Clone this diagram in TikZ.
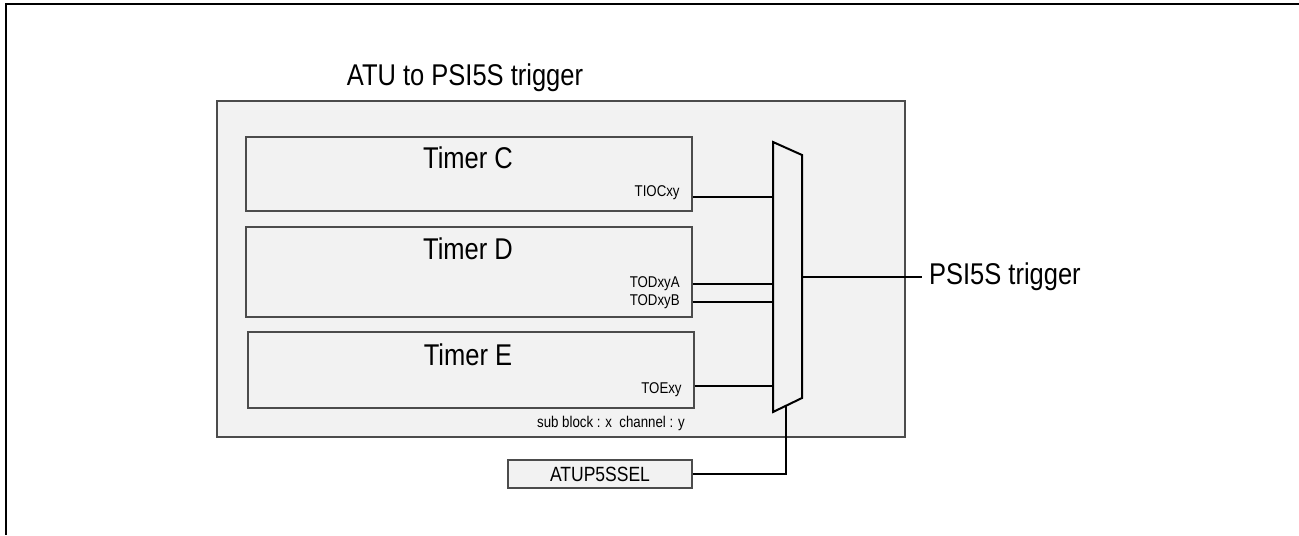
\documentclass[tikz,border=0pt]{standalone}
\usepackage{fontspec}
\setmainfont{Liberation Sans}[FakeStretch=0.85]
\usetikzlibrary{positioning}

\begin{document}
\begin{tikzpicture}[x=0.5pt,y=-0.5pt,
  box/.style={draw=black!70, fill=black!5, line width=0.6pt, inner sep=0pt},
  wire/.style={line width=0.9pt},
  big/.style={font=\fontsize{15}{17}\selectfont},
  tiny/.style={font=\fontsize{7.8}{9}\selectfont, inner sep=0pt}]
\useasboundingbox (0,0) rectangle (1299,535);
\draw [line width=1pt] (1299,4) -- (5.5,4) -- (5.5,535);
% ATU block and timers
\node (atu) [box] [minimum width=344pt, minimum height=168pt] at (561,269) {};
\node (ttl) [big, anchor=base, inner sep=0pt] at (465,85) {ATU to PSI5S trigger};
\node (tc) [box, minimum width=223pt, minimum height=37pt] at (469,174) {};
\node (td) [box, minimum width=223pt, minimum height=45pt] at (469,272) {};
\node (te) [box, minimum width=223pt, minimum height=38pt] at (471,370) {};
\node (tcn) [big, anchor=base, inner sep=0pt] at (468,168) {Timer C};
\node (tdn) [big, anchor=base, inner sep=0pt] at (468,259) {Timer D};
\node (ten) [big, anchor=base, inner sep=0pt] at (468,365) {Timer E};
\node (tioc) [tiny, anchor=base east] at (680,196) {TIOCxy};
\node (toda) [tiny, anchor=base east] at (680,287) {TODxyA};
\node (todb) [tiny, anchor=base east] at (680,305) {TODxyB};
\node (toe)  [tiny, anchor=base east] at (682,393) {TOExy};
\node (sub)  [tiny, anchor=base] at (611,427) {sub block : x\ \ channel : y};
% selector
\coordinate (mtl) at (773,142);
\coordinate (mtr) at (802,155);
\coordinate (mbr) at (802,398);
\coordinate (mbl) at (773,412);
\draw [fill=black!5, line width=1pt] (mtl) -- (mtr) -- (mbr) -- (mbl) -- cycle;
\coordinate (inc) at (773,197);
\coordinate (ina) at (773,284);
\coordinate (inb) at (773,302);
\coordinate (ine) at (773,386);
\draw [wire] (tc.east |- inc) -- (inc);
\draw [wire] (td.east |- ina) -- (ina);
\draw [wire] (td.east |- inb) -- (inb);
\draw [wire] (te.east |- ine) -- (ine);
% output and select
\coordinate (out) at (802,277);
\node (trg) [big, anchor=west] at (922,277) {PSI5S trigger};
\draw [wire] (out) -- (trg.west);
\node (sel) [box, minimum width=92pt, minimum height=14pt,
  font=\fontsize{10.3}{12}\selectfont] at (600,474) {ATUP5SSEL};
\coordinate (selm) at (786,405.7);
\draw [wire] (sel.east) -| (selm);
\end{tikzpicture}
\end{document}
